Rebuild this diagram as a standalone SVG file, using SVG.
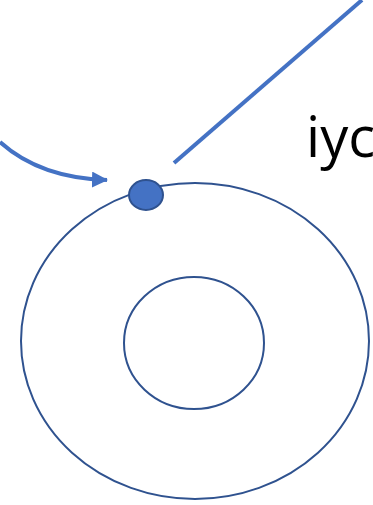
<svg xmlns="http://www.w3.org/2000/svg" width="373" height="505" viewBox="0 0 373 505">
<style>
.ring{fill:none;stroke:#2F528F;stroke-width:2}
.conn{fill:none;stroke:#4472C4;stroke-width:4}
.lbl{font-family:"Open Sans","Liberation Sans",sans-serif;font-size:56px;fill:#000}
</style>
<defs>
<marker id="ah" markerUnits="userSpaceOnUse" markerWidth="16" markerHeight="16" refX="15" refY="8" orient="auto">
<path d="M0,0 L16,8 L0,16 Z" fill="#4472C4"/>
</marker>
</defs>
<g id="outer"><ellipse class="ring" cx="195" cy="341" rx="174" ry="158"/></g>
<g id="inner"><ellipse class="ring" cx="194" cy="343" rx="70" ry="66"/></g>
<g id="dot"><ellipse cx="146" cy="195" rx="17" ry="15" fill="#4472C4" stroke="#2F528F" stroke-width="2"/></g>
<g id="label"><text class="lbl" x="306" y="157">iyc</text></g>
<g id="connectors">
<path class="conn" d="M0,142 Q40,178 107,180" marker-end="url(#ah)"/>
<line class="conn" x1="174" y1="163" x2="362" y2="0"/>
</g>
</svg>
